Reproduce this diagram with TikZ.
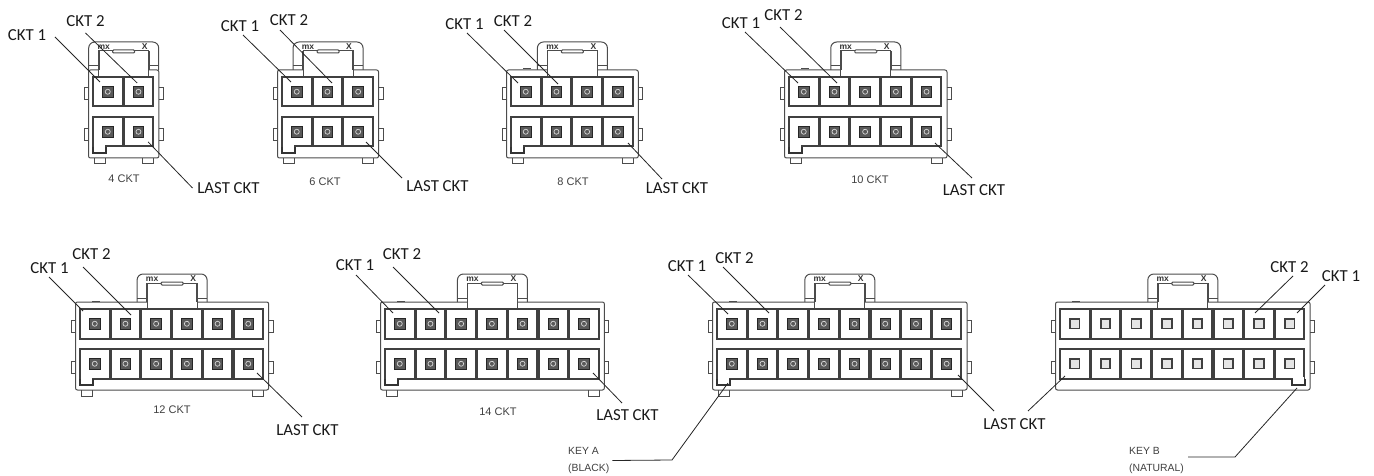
\documentclass[tikz,border=0pt]{standalone}
\usepackage{fontspec}
\setmainfont{Carlito}
\newfontfamily\arialfont{Liberation Sans}
\usetikzlibrary{calc}
\tikzset{
    % Define lead line style
    lead/.style={
           draw=black!85,
           line width=0.8pt,},
    ckt/.style={font=\fontsize{16.8}{18}\selectfont, inner sep=0pt, text=black!90},
    size/.style={font=\arialfont\fontsize{11}{12}\selectfont, inner sep=0pt, text=black!75},
    keytext/.style={font=\arialfont\fontsize{10.4}{17}\selectfont, inner sep=0pt, text=black!75, align=left, anchor=west},
    stamp/.style={font=\arialfont\bfseries\fontsize{8.5}{8.5}\selectfont, inner sep=0pt, text=black!80},
    shell/.style={draw=black!70, line width=1pt},
    cavity/.style={draw=black!75, fill=white, line width=2pt, rectangle, minimum width=29.5pt, minimum height=29.5pt, anchor=north west, inner sep=0pt, outer sep=0pt},
    pina/.style={draw=black!85, fill=black!65, line width=0.9pt, rectangle, minimum size=10.5pt, inner sep=0pt,
           path picture={\draw[black!15, line width=0.7pt] (path picture bounding box.center) circle (2.5pt);}},
    pinb/.style={draw=black!75, fill=black!10, line width=1.8pt, rectangle, minimum size=9.5pt, inner sep=0pt},
}
\newcommand{\cavpitch}{30.7}
% name, first cavity x, first cavity y, columns, pin style
\newcommand{\connector}[5]{
    \pgfmathsetmacro{\shellr}{#2+#4*\cavpitch+4.5}
    \pgfmathsetmacro{\shellm}{#2+#4*\cavpitch/2}
    \draw[shell,rounded corners=2pt] (#2-4.5,#3-7) rectangle (\shellr,#3+81);
    \foreach \eary in {11,52} {
        \draw[shell] (#2-4.5,#3+\eary) -- ++(-4.5,0) -- ++(0,12) -- ++(4.5,0);
        \draw[shell] (\shellr,#3+\eary) -- ++(4.5,0) -- ++(0,12) -- ++(-4.5,0);
    }
    \draw[shell,rounded corners=6pt] (\shellm-35,#3-7) -- (\shellm-35,#3-35) -- (\shellm+35,#3-35) -- (\shellm+35,#3-7);
    \draw[shell] (\shellm-35,#3-11) -- (\shellm-25,#3-11);
    \draw[shell] (\shellm+25,#3-11) -- (\shellm+35,#3-11);
    \draw[shell,fill=white] (\shellm-25,#3) -- (\shellm-25,#3-26) -- (\shellm+25,#3-26) -- (\shellm+25,#3);
    \draw[shell,line width=1.8pt] (\shellm-25,#3-7) -- (\shellm-25,#3-26);
    \draw[shell,line width=1.8pt] (\shellm+25,#3-7) -- (\shellm+25,#3-26);
    \draw[shell,fill=white,rounded corners=1pt] (\shellm-11,#3-27) rectangle (\shellm+11,#3-24);
    \node[stamp] (#1mx) at (\shellm-20,#3-30) {mx};
    \node[stamp] (#1x) at (\shellm+21,#3-30) {X};
    \ifnum#4>3 \draw[shell] (#2+12,#3-8) -- (#2+20,#3-8); \fi
    \foreach \i [evaluate=\i as \cellx using #2+(\i-1)*\cavpitch] in {1,...,#4} {
        \node[cavity] (#1t\i) at (\cellx,#3) {};
        \node[cavity] (#1b\i) at (\cellx,#3+40) {};
        \node[#5] (#1pt\i) at (#1t\i.center) {};
        \node[#5] (#1pb\i) at (#1b\i.center) {};
    }
}
\newcommand{\feet}[3]{
    \pgfmathsetmacro{\footr}{#1+#3*\cavpitch-11.5}
    \draw[shell] (#1+1,#2+81) -- ++(0,6) -- ++(11,0) -- ++(0,-6);
    \draw[shell] (\footr,#2+81) -- ++(0,6) -- ++(11,0) -- ++(0,-6);
}
\newcommand{\notch}[2]{
    \fill[white] (#1+1,#2+68) rectangle (#1+12,#2+75);
    \draw[draw=black!80,line width=2pt] (#1,#2+70) -- ++(0,6) -- ++(13,0) -- ++(0,-6);
}

\begin{document}
\begin{tikzpicture}[x=1pt, y=-1pt]
\useasboundingbox (0,0) rectangle (1374,476);

\connector{four}{93}{77}{2}{pina}
\feet{93}{77}{2}
\notch{93}{77}
\connector{six}{282}{77}{3}{pina}
\feet{282}{77}{3}
\notch{282}{77}
\connector{eight}{511}{77}{4}{pina}
\feet{511}{77}{4}
\notch{511}{77}
\connector{ten}{789}{77}{5}{pina}
\feet{789}{77}{5}
\notch{789}{77}
\connector{twelve}{80}{309}{6}{pina}
\feet{80}{309}{6}
\notch{80}{309}
\connector{fourteen}{385}{309}{7}{pina}
\feet{385}{309}{7}
\notch{385}{309}
\connector{keya}{717}{309}{8}{pina}
\feet{717}{309}{8}
\notch{717}{309}
\connector{keyb}{1060}{309}{8}{pinb}
\notch{1292}{309}

\node[ckt] (fourone) at (27,35) {CKT 1};
\node[ckt] (fourtwo) at (85.5,21) {CKT 2};
\node[ckt] (fourlast) at (228.5,188) {LAST CKT};
\node[size] (foursize) at (124,179) {4 CKT};
\draw[lead] ($(fourone)+(28,2)$) -- ($(fourt1.north west)+(7,5)$);
\draw[lead] ($(fourtwo)+(0,12)$) -- ($(fourt2.north west)+(13.5,6)$);
\draw[lead] ($(fourlast)+(-36,0)$) -- ($(fourb2.north west)+(24.5,25)$);

\node[ckt] (sixone) at (240,26) {CKT 1};
\node[ckt] (sixtwo) at (289,20) {CKT 2};
\node[ckt] (sixlast) at (437.5,186) {LAST CKT};
\node[size] (sixsize) at (325,182) {6 CKT};
\draw[lead] ($(sixone)+(3,9)$) -- ($(sixt1.north west)+(9,5)$);
\draw[lead] ($(sixtwo)+(-9,10)$) -- ($(sixt2.north west)+(19.3,6)$);
\draw[lead] ($(sixlast)+(-35.5,-8)$) -- ($(sixb3.north west)+(22.6,25)$);

\node[ckt] (eightone) at (464.5,24) {CKT 1};
\node[ckt] (eighttwo) at (513,21) {CKT 2};
\node[ckt] (eightlast) at (677,188) {LAST CKT};
\node[size] (eightsize) at (573,182) {8 CKT};
\draw[lead] ($(eightone)+(2.5,9)$) -- ($(eightt1.north west)+(7,6)$);
\draw[lead] ($(eighttwo)+(-9,9)$) -- ($(eightt2.north west)+(16.3,7)$);
\draw[lead] ($(eightlast)+(-15,-9)$) -- ($(eightb4.north west)+(24.9,26)$);

\node[ckt] (tenone) at (741,23) {CKT 1};
\node[ckt] (tentwo) at (783.5,15) {CKT 2};
\node[ckt] (tenlast) at (974,190) {LAST CKT};
\node[size] (tensize) at (870,180) {10 CKT};
\draw[lead] ($(tenone)+(4,9)$) -- ($(tent1.north west)+(9,6)$);
\draw[lead] ($(tentwo)+(-3.5,12)$) -- ($(tent2.north west)+(17.3,6)$);
\draw[lead] ($(tenlast)+(-2,-12)$) -- ($(tenb5.north west)+(23.2,26)$);

\node[ckt] (twelveone) at (49.5,268) {CKT 1};
\node[ckt] (twelvetwo) at (91.5,254) {CKT 2};
\node[ckt] (twelvelast) at (307.5,430) {LAST CKT};
\node[size] (twelvesize) at (172,410) {12 CKT};
\draw[lead] ($(twelveone)+(-0.5,9)$) -- ($(twelvet1.north west)+(3,2)$);
\draw[lead] ($(twelvetwo)+(-8.5,13)$) -- ($(twelvet2.north west)+(20.3,6)$);
\draw[lead] ($(twelvelast)+(-5.5,-13)$) -- ($(twelveb6.north west)+(23.5,24)$);

\node[ckt] (fourteenone) at (355,265) {CKT 1};
\node[ckt] (fourteentwo) at (402,254) {CKT 2};
\node[ckt] (fourteenlast) at (627.5,415) {LAST CKT};
\node[size] (fourteensize) at (498,412) {14 CKT};
\draw[lead] ($(fourteenone)+(1,10)$) -- ($(fourteent1.north west)+(8,4)$);
\draw[lead] ($(fourteentwo)+(-9,13)$) -- ($(fourteent2.north west)+(23.3,4)$);
\draw[lead] ($(fourteenlast)+(-5.5,-12)$) -- ($(fourteenb7.north west)+(23.8,24)$);

\node[ckt] (keyaone) at (687,266) {CKT 1};
\node[ckt] (keyatwo) at (734.5,258) {CKT 2};
\node[ckt] (keylast) at (1014.5,424) {LAST CKT};
\node[keytext] (keyalabel) at (568,460.5) {KEY A\\(BLACK)};
\coordinate (keyabend) at (672,460);
\draw[lead] ($(keyaone)+(1,9)$) -- ($(keyat1.north west)+(11,5)$);
\draw[lead] ($(keyatwo)+(-11.5,9)$) -- ($(keyat2.north west)+(21.3,4)$);
\draw[lead] ($(keylast)+(-20.5,-13)$) -- ($(keyab8.north west)+(26.1,26)$);
\draw[lead] ($(keyalabel.east)+(3,0)$) -- (keyabend) -- ($(keyab1.north west)+(11,34)$);

\node[ckt] (keybone) at (1341,276) {CKT 1};
\node[ckt] (keybtwo) at (1289.5,267) {CKT 2};
\node[keytext] (keyblabel) at (1129,460.5) {KEY B\\(NATURAL)};
\coordinate (keybbend) at (1235,457);
\draw[lead] ($(keybone)+(-16,9)$) -- ($(keybt8.north west)+(22.1,4)$);
\draw[lead] ($(keybtwo)+(3.5,9)$) -- ($(keybt7.north west)+(10.8,4)$);
\draw[lead] ($(keylast)+(13.5,-13)$) -- ($(keybb1.north west)+(5,27)$);
\draw[lead] ($(keyblabel.east)+(4,-3.5)$) -- (keybbend) -- ($(keybb8.north west)+(22.1,39)$);

\end{tikzpicture}
\end{document}
